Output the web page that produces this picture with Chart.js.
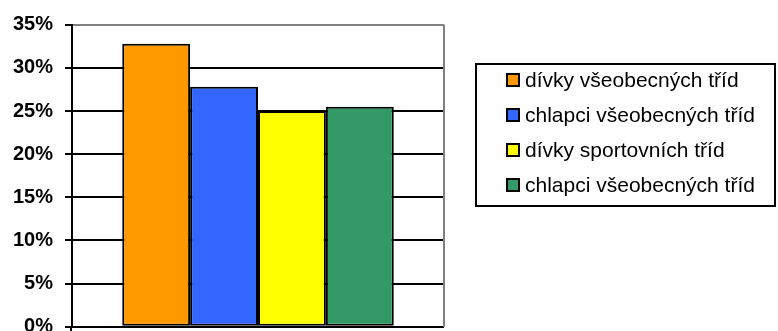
<!DOCTYPE html>
<html>
<head>
<meta charset="utf-8">
<script src="https://cdn.jsdelivr.net/npm/chart.js@4/dist/chart.umd.min.js"></script>
<style>
    body { margin: 0; background: #fff; }
    #wrap { position: relative; width: 778px; height: 331px; overflow: hidden; }
    #legend {
        position: absolute;
        left: 475px;
        top: 63px;
        width: 297px;
        height: 140px;
        border: 2px solid #000;
        font-family: "Liberation Sans", Arial, sans-serif;
        font-size: 21px;
        color: #000;
    }
    #legend .rows { margin-top: -3px; }
    #legend .row { display: flex; align-items: center; height: 35px; padding-left: 29px; }
    #legend .swatch { width: 10px; height: 10px; border: 2px solid #000; margin-right: 5px; }
</style>
</head>
<body>
<div id="wrap">
    <canvas id="chart" width="778" height="331"></canvas>
    <div id="legend"><div class="rows"></div></div>
</div>
<script>
// Chart data
const seriesLabels = ['dívky všeobecných tříd', 'chlapci všeobecných tříd', 'dívky sportovních tříd', 'chlapci všeobecných tříd'];
const seriesValues = [32.8, 27.8, 25.0, 25.5];
const seriesColors = ['#FF9900', '#3366FF', '#FFFF00', '#339966'];
const categories = [''];
const yMax = 35;
const yStep = 5;

// Gray frame on the right of the plot, plus the axis stub below zero
const plotFrame = {
    id: 'plotFrame',
    afterDraw(chart) {
        const { ctx, chartArea } = chart;
        ctx.save();
        ctx.lineWidth = 2;
        ctx.strokeStyle = '#808080';
        ctx.beginPath();
        ctx.moveTo(chartArea.right, chartArea.top);
        ctx.lineTo(chartArea.right, chartArea.bottom);
        ctx.stroke();
        ctx.strokeStyle = '#000';
        ctx.beginPath();
        ctx.moveTo(chartArea.left - 1, chartArea.bottom);
        ctx.lineTo(chartArea.left - 1, chart.height);
        ctx.stroke();
        ctx.restore();
    }
};

const datasets = seriesLabels.map((label, i) => ({
    label: label,
    data: [seriesValues[i]],
    backgroundColor: seriesColors[i],
    borderColor: '#000',
    borderWidth: 2,
    borderSkipped: false,
    categoryPercentage: 0.73,
    barPercentage: 1
}));

new Chart(document.getElementById('chart').getContext('2d'), {
    type: 'bar',
    data: { labels: categories, datasets: datasets },
    plugins: [plotFrame],
    options: {
        responsive: false,
        animation: false,
        layout: { padding: { left: 0, right: 334, top: 24.7, bottom: 4.3 } },
        plugins: {
            legend: { display: false },
            tooltip: { enabled: false }
        },
        scales: {
            x: {
                display: false,
                grid: { display: false }
            },
            y: {
                min: 0,
                max: yMax,
                border: { color: '#000', width: 2 },
                grid: {
                    color: (c) => c.tick && c.tick.value === yMax ? '#808080' : '#000',
                    lineWidth: 2,
                    tickColor: '#000',
                    tickLength: 7
                },
                ticks: {
                    stepSize: yStep,
                    padding: 12,
                    color: '#000',
                    font: { family: '"Liberation Sans", Arial, sans-serif', size: 20, weight: 'bold' },
                    callback: (v) => v + '%'
                },
                afterFit(scale) {
                    scale.width = 72;
                    scale.paddingTop = 0;
                    scale.paddingBottom = 0;
                }
            }
        }
    }
});

// Legend built from the series arrays
const rows = document.querySelector('#legend .rows');
seriesLabels.forEach((label, i) => {
    const row = document.createElement('div');
    row.className = 'row';
    row.innerHTML = `<span class="swatch" style="background:${seriesColors[i]}"></span><span>${label}</span>`;
    rows.appendChild(row);
});
</script>
</body>
</html>
